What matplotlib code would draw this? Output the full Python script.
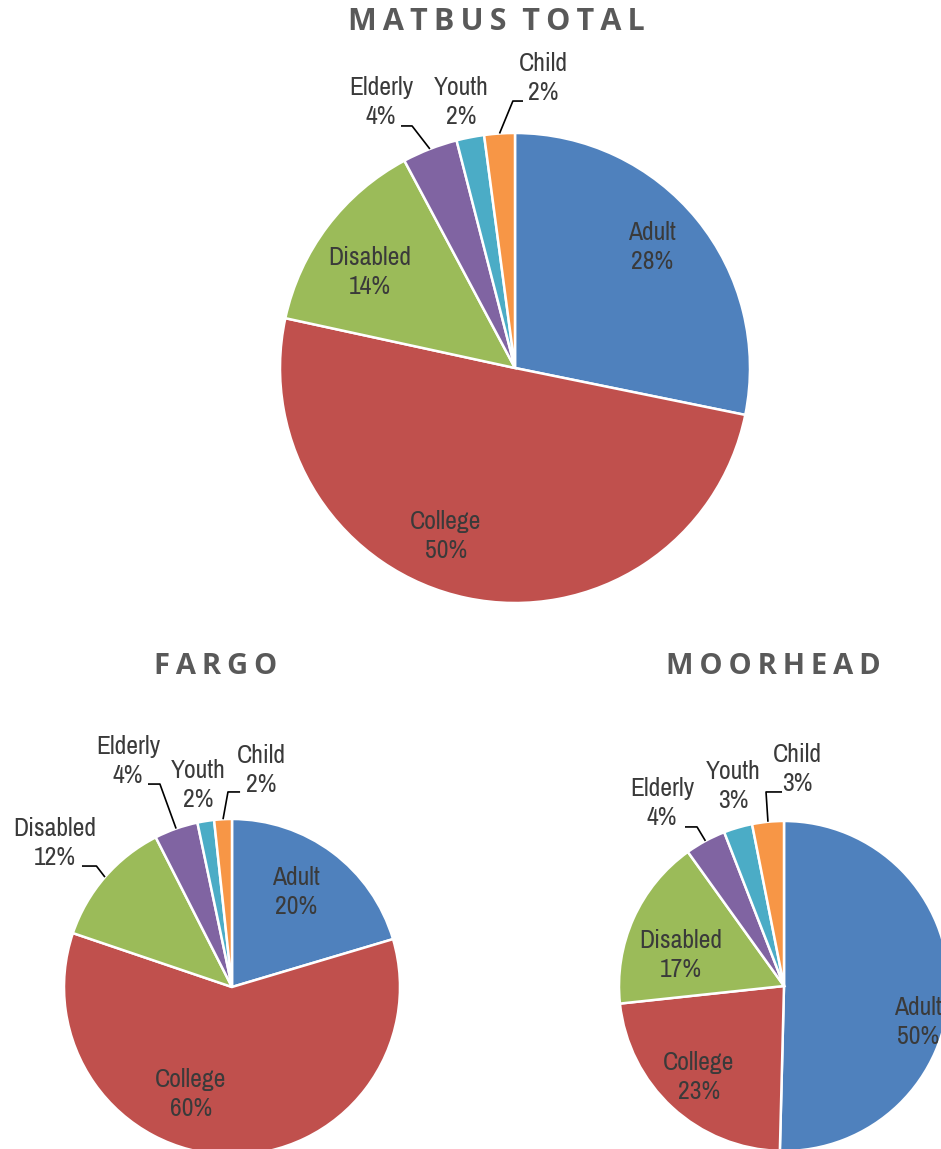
import numpy as np
import matplotlib
matplotlib.use('Agg')
import matplotlib.pyplot as plt

# ---- data ----
categories = ['Adult', 'College', 'Disabled', 'Elderly', 'Youth', 'Child']
total_share = [28.2, 50.2, 13.8, 3.8, 1.9, 2.1]
fargo_share = [20.4, 59.8, 12.3, 4.2, 1.6, 1.7]
moorhead_share = [50.4, 22.9, 16.8, 4.0, 2.8, 3.1]

colors = ['#4F81BD', '#C0504D', '#9BBB59', '#8064A2', '#4BACC6', '#F79646']

W, H = 941, 1149
LABEL_FONT = ['Liberation Sans Narrow', 'Archivo Narrow', 'DejaVu Sans']
TITLE_FONT = ['Open Sans', 'DejaVu Sans']
TXT = '#3a3a3a'
TITLE_C = '#595959'

fig = plt.figure(figsize=(W / 100, H / 100), dpi=100)


def pie_axes(cx, cy, r):
    # square axes (in pixels) around the pie centre
    return fig.add_axes([(cx - r) / W, (H - cy - r) / H, 2 * r / W, 2 * r / H])


def spaced(s):
    # letter-spaced title
    return '  '.join('\u2009'.join(word) for word in s.split(' '))


def draw_pie(ax, share, label_pos, leaders):
    wedges, _ = ax.pie(share, colors=colors, startangle=90, counterclock=False,
                       radius=1, wedgeprops=dict(edgecolor='white', linewidth=1.8))
    for w in wedges:
        w.set_clip_on(False)
    ax.set_xlim(-1, 1)
    ax.set_ylim(-1, 1)
    ax.set_aspect('equal')
    ax.axis('off')
    for i, (name, v) in enumerate(zip(categories, share)):
        x, y = label_pos[i]
        ax.text(x, y, '%s\n%.0f%%' % (name, v), ha='center', va='center',
                fontsize=18.5, family=LABEL_FONT, color=TXT, linespacing=1.3,
                clip_on=False)
        if i in leaders:
            (x0, y0), (x1, y1) = leaders[i]
            w = wedges[i]
            a = np.deg2rad((w.theta1 + w.theta2) / 2)
            ax.plot([x0, x1, np.cos(a)], [y0, y1, np.sin(a)], color='black',
                    lw=1.2, clip_on=False, solid_capstyle='butt')


# MATBUS TOTAL
ax = pie_axes(515, 368, 235)
draw_pie(ax, total_share,
         [(0.583, 0.515), (-0.294, -0.715), (-0.617, 0.409),
          (-0.570, 1.132), (-0.230, 1.132), (0.119, 1.234)],
         {3: [(-0.485, 1.030), (-0.438, 1.030)],
          5: [(0.034, 1.136), (-0.009, 1.136)]})

# FARGO
ax = pie_axes(232, 987, 168)
draw_pie(ax, fargo_share,
         [(0.381, 0.565), (-0.244, -0.637), (-1.054, 0.857),
          (-0.619, 1.345), (-0.202, 1.202), (0.173, 1.292)],
         {2: [(-0.893, 0.720), (-0.807, 0.720)],
          3: [(-0.500, 1.208), (-0.429, 1.208)],
          5: [(0.048, 1.161), (-0.024, 1.161)]})

# MOORHEAD
ax = pie_axes(784, 986, 165)
draw_pie(ax, moorhead_share,
         [(0.812, -0.220), (-0.515, -0.552), (-0.624, 0.188),
          (-0.739, 1.110), (-0.309, 1.212), (0.079, 1.315)],
         {3: [(-0.600, 0.964), (-0.527, 0.964)],
          5: [(-0.012, 1.176), (-0.109, 1.176)]})

fig.text(496 / W, 1 - 22 / H, spaced('MATBUS TOTAL'), ha='center', va='center',
         fontsize=22, fontweight='bold', family=TITLE_FONT, color=TITLE_C)
fig.text(216 / W, 1 - 666 / H, spaced('FARGO'), ha='center', va='center',
         fontsize=21, fontweight='bold', family=TITLE_FONT, color=TITLE_C)
fig.text(773 / W, 1 - 666 / H, spaced('MOORHEAD'), ha='center', va='center',
         fontsize=21, fontweight='bold', family=TITLE_FONT, color=TITLE_C)

fig.savefig('out.png', dpi=100)
plt.close('all')
